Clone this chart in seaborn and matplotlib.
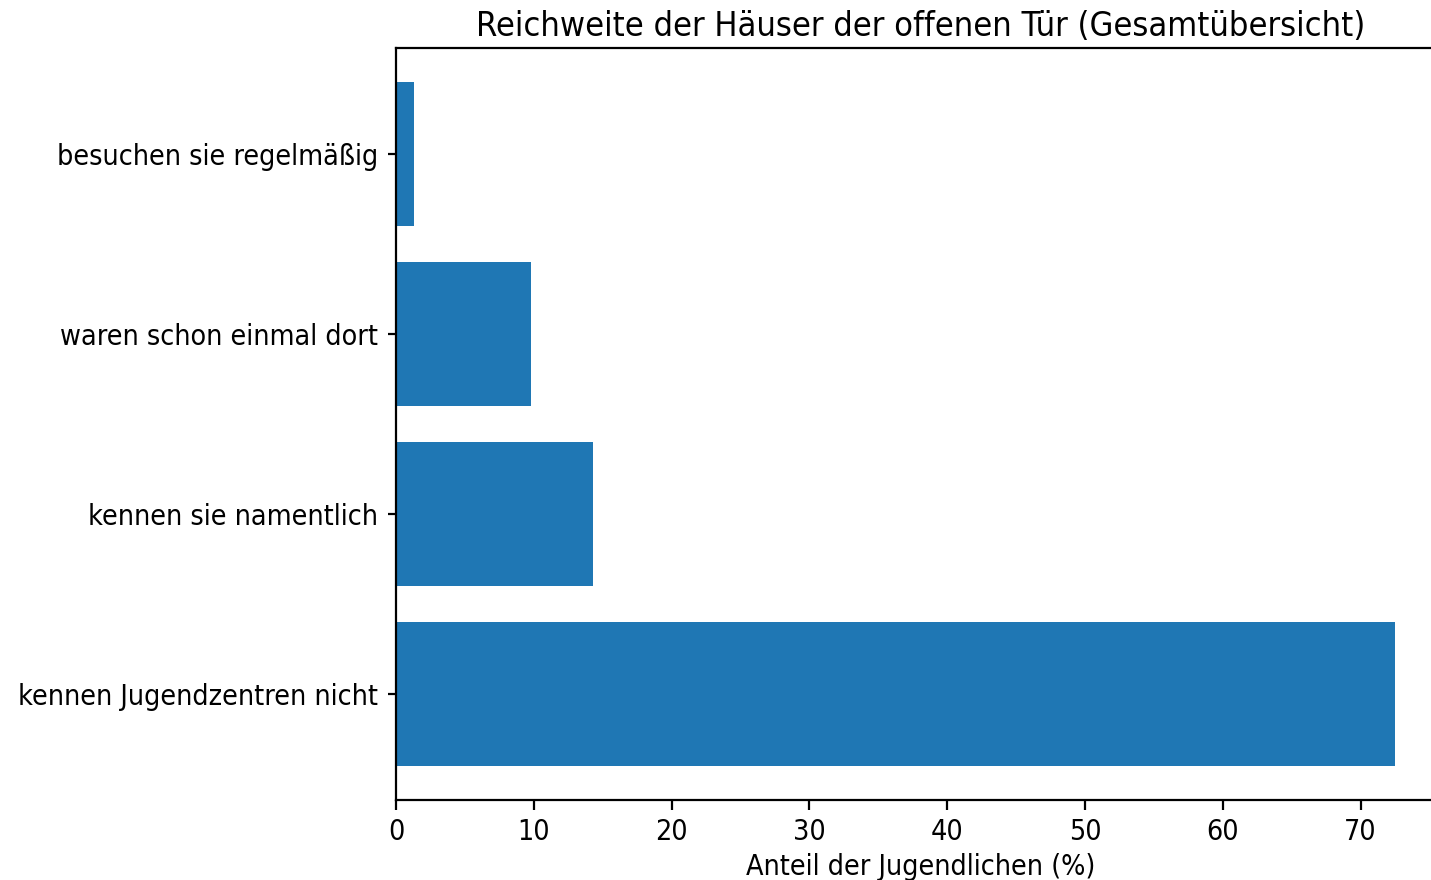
import matplotlib
matplotlib.use("Agg")
import matplotlib.pyplot as plt
import seaborn as sns
import pandas as pd

# Reichweite der Häuser der offenen Tür - Anteile in Prozent
kategorien = [
    "besuchen sie regelmäßig",
    "waren schon einmal dort",
    "kennen sie namentlich",
    "kennen Jugendzentren nicht",
]
anteile = [1.3, 9.8, 14.3, 72.5]

df = pd.DataFrame({"kategorie": kategorien, "anteil": anteile})

plt.rcParams.update({
    "font.family": ["DejaVu Sans"],
    "font.stretch": "condensed",
    "axes.linewidth": 1.6,
    "xtick.major.width": 1.6,
    "ytick.major.width": 1.6,
    "xtick.major.size": 7,
    "ytick.major.size": 6,
    "xtick.major.pad": 6,
    "ytick.major.pad": 7,
})

fig = plt.figure(figsize=(14.31, 8.80), dpi=100)
ax = fig.add_axes([396 / 1431, 80 / 880, 1049 / 1431, 752 / 880])

sns.barplot(data=df, x="anteil", y="kategorie", orient="h", color="#1f77b4",
            saturation=1, width=0.8, ax=ax)

ax.set_ylim(3.59, -0.59)
ax.set_xlim(0, max(anteile) * 1.05)
ax.set_xticks(range(0, 80, 10))
ax.tick_params(axis="both", labelsize=20.5)
ax.set_title("Reichweite der Häuser der offenen Tür (Gesamtübersicht)",
             fontsize=24.7, pad=9)
ax.set_xlabel("Anteil der Jugendlichen (%)", fontsize=20.5, labelpad=5)
ax.set_ylabel("")

fig.savefig("out.png", dpi=100)
